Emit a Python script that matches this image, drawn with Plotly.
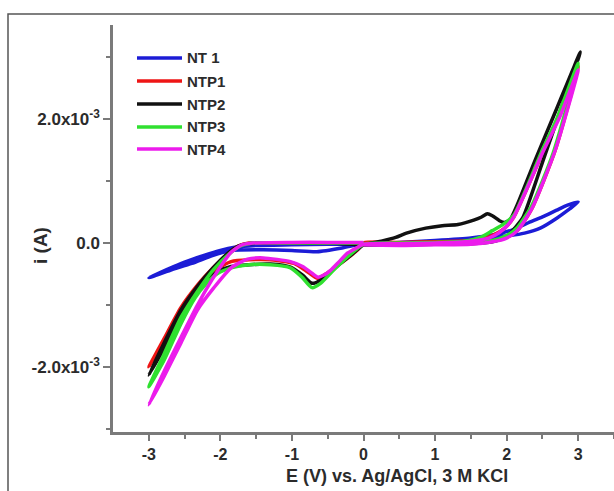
import plotly.graph_objects as go

# ---------------- data (E in V, i in units of 1e-3 A) ----------------
names = ["NT 1", "NTP1", "NTP2", "NTP3", "NTP4"]
colors = ["#1c1cd6", "#ee1515", "#111111", "#30e030", "#ec1cec"]

nt1_E = [0, 0.5, 1.0, 1.5, 1.8, 2.05, 2.25, 2.47, 2.7, 2.88, 3.0,
         2.85, 2.7, 2.5, 2.33, 2.1, 1.85, 1.5, 1.0, 0.5, 0,
         -0.3, -0.65, -1.0, -1.4, -1.85, -2.1, -2.4, -2.7, -3.0,
         -2.75, -2.5, -2.25, -2.0, -1.8, -1.5, -1.0, -0.5, 0]
nt1_i = [-0.02, -0.01, 0.01, 0.05, 0.09, 0.12, 0.16, 0.24, 0.40, 0.55, 0.66,
         0.61, 0.53, 0.42, 0.34, 0.22, 0.14, 0.08, 0.04, 0.01, -0.01,
         -0.08, -0.14, -0.12, -0.11, -0.12, -0.20, -0.33, -0.44, -0.56,
         -0.43, -0.31, -0.21, -0.12, -0.07, -0.04, -0.03, -0.02, -0.01]

ntp1_E = [0, 0.5, 1.0, 1.5, 1.8, 2.0, 2.15, 2.35, 2.68, 3.0,
          2.7, 2.5, 2.3, 2.1, 2.0, 1.9, 1.75, 1.5, 1.0, 0.5, 0,
          -0.08, -0.32, -0.5, -0.64, -0.8, -0.97, -1.3, -1.6, -1.85, -2.05, -2.2, -2.35, -2.55, -2.79, -3.0,
          -2.79, -2.55, -2.32, -2.1, -1.9, -1.75, -1.6, -1.0, -0.5, 0]
ntp1_i = [-0.02, -0.02, -0.01, 0.0, 0.03, 0.09, 0.20, 0.55, 1.50, 2.85,
          1.97, 1.45, 0.92, 0.42, 0.27, 0.18, 0.10, 0.04, 0.02, 0.01, 0.0,
          -0.11, -0.33, -0.48, -0.57, -0.45, -0.33, -0.27, -0.27, -0.30, -0.42, -0.58, -0.78, -1.10, -1.60, -2.00,
          -1.55, -1.04, -0.68, -0.40, -0.18, -0.05, 0.0, 0.0, 0.0, 0.0]

ntp2_E = [0, 0.5, 1.0, 1.5, 1.8, 2.0, 2.12, 2.23, 2.5, 2.8, 3.03,
          2.7, 2.4, 2.15, 2.05, 1.97, 1.9, 1.8, 1.73, 1.65, 1.54, 1.32, 1.1, 0.87, 0.6, 0.45, 0.25, 0,
          -0.18, -0.42, -0.6, -0.72, -0.85, -1.02, -1.3, -1.6, -1.85, -2.05, -2.2, -2.35, -2.55, -2.79, -3.0,
          -2.79, -2.55, -2.32, -2.1, -1.9, -1.75, -1.6, -1.0, -0.5, 0]
ntp2_i = [-0.03, -0.03, -0.02, -0.01, 0.02, 0.10, 0.25, 0.42, 1.30, 2.30, 3.08,
          2.17, 1.34, 0.62, 0.38, 0.33, 0.36, 0.44, 0.47, 0.42, 0.37, 0.30, 0.28, 0.24, 0.16, 0.09, 0.03, -0.03,
          -0.20, -0.42, -0.60, -0.65, -0.52, -0.39, -0.34, -0.35, -0.38, -0.47, -0.62, -0.82, -1.16, -1.70, -2.13,
          -1.62, -1.08, -0.70, -0.40, -0.17, -0.05, -0.01, 0.0, 0.0, -0.03]

ntp3_E = [0, 0.5, 1.0, 1.5, 1.8, 2.0, 2.15, 2.35, 2.65, 3.0,
          2.7, 2.48, 2.3, 2.1, 1.95, 1.8, 1.65, 1.4, 1.0, 0.5, 0,
          -0.2, -0.42, -0.6, -0.72, -0.86, -1.02, -1.3, -1.6, -1.85, -2.05, -2.2, -2.35, -2.55, -2.79, -3.0,
          -2.79, -2.55, -2.32, -2.09, -1.85, -1.7, -1.55, -1.0, -0.5, 0]
ntp3_i = [-0.02, -0.02, -0.01, 0.0, 0.04, 0.12, 0.25, 0.60, 1.45, 2.90,
          2.00, 1.45, 0.95, 0.45, 0.30, 0.20, 0.10, 0.03, 0.01, 0.0, -0.02,
          -0.20, -0.44, -0.65, -0.72, -0.55, -0.40, -0.35, -0.35, -0.40, -0.50, -0.66, -0.88, -1.30, -1.90, -2.32,
          -1.80, -1.20, -0.78, -0.42, -0.15, -0.04, 0.0, 0.0, 0.0, 0.0]

ntp4_E = [0, 0.5, 1.0, 1.5, 1.8, 2.0, 2.15, 2.35, 2.68, 3.0,
          2.75, 2.5, 2.3, 2.1, 2.0, 1.9, 1.75, 1.5, 1.0, 0.5, 0,
          -0.1, -0.22, -0.34, -0.46, -0.56, -0.64, -0.74, -0.85, -1.02, -1.4, -1.62, -1.85, -2.09, -2.32, -2.55, -2.79, -3.0,
          -2.79, -2.55, -2.32, -2.12, -1.98, -1.85, -1.7, -1.55, -1.0, -0.5, 0]
ntp4_i = [-0.03, -0.04, -0.03, -0.02, 0.02, 0.08, 0.20, 0.55, 1.50, 2.79,
          2.05, 1.45, 0.92, 0.42, 0.27, 0.17, 0.08, 0.03, 0.0, -0.01, -0.02,
          -0.08, -0.16, -0.30, -0.44, -0.52, -0.55, -0.47, -0.38, -0.30, -0.24, -0.26, -0.40, -0.72, -1.08, -1.61, -2.16, -2.61,
          -2.08, -1.52, -1.00, -0.60, -0.35, -0.15, -0.03, 0.0, 0.01, 0.01, 0.01]

series_E = [nt1_E, ntp1_E, ntp2_E, ntp3_E, ntp4_E]
series_i = [nt1_i, ntp1_i, ntp2_i, ntp3_i, ntp4_i]

x_tickvals = [-3, -2, -1, 0, 1, 2, 3]
y_tickvals = [-2.0e-3, 0.0, 2.0e-3]
y_ticktext = ["-2.0x10<sup>-3</sup>", "0.0", "2.0x10<sup>-3</sup>"]

# ---------------- figure ----------------
W, H = 614, 491
L, R, T, B = 113, 0, 25, 59
pw, ph = W - L - R, H - T - B


def px_to_paper(x, y):
    return (x - L) / pw, (H - B - y) / ph


FONT = "Liberation Sans, Arial, sans-serif"
TXT = "#2b2b2b"
AX = "#7a7a7a"

fig = go.Figure()
for name, col, E, I in zip(names, colors, series_E, series_i):
    fig.add_trace(go.Scatter(
        x=E, y=[v * 1e-3 for v in I], mode="lines", name=name,
        line=dict(color=col, width=3.5, shape="spline", smoothing=0.6),
        showlegend=False, hoverinfo="skip"))

fig.update_layout(
    width=W, height=H, margin=dict(l=L, r=R, t=T, b=B),
    paper_bgcolor="white", plot_bgcolor="white",
    font=dict(family=FONT, color=TXT),
    showlegend=False,
)

fig.update_xaxes(
    range=[-3.5, 3.5], showgrid=False, zeroline=False,
    showline=True, linecolor=AX, linewidth=2.5,
    ticks="outside", ticklen=6, tickwidth=2, tickcolor=AX,
    tickvals=x_tickvals, ticktext=[str(v) for v in x_tickvals],
    tickfont=dict(family=FONT, size=16, color=TXT, weight="bold"),
    minor=dict(tickvals=[-2.5, -1.5, -0.5, 0.5, 1.5, 2.5, 3.5], ticklen=4,
               tickwidth=2, tickcolor=AX, ticks="outside"),
)
fig.update_yaxes(
    range=[-3.048e-3, 3.516e-3], showgrid=False, zeroline=False,
    showline=True, linecolor=AX, linewidth=2.5,
    ticks="outside", ticklen=7, tickwidth=2, tickcolor=AX,
    tickvals=y_tickvals, ticktext=y_ticktext,
    tickfont=dict(family=FONT, size=17, color=TXT, weight="bold"),
    minor=dict(tickvals=[-3e-3, -1e-3, 1e-3, 3e-3], ticklen=4,
               tickwidth=2, tickcolor=AX, ticks="outside"),
)

# axis titles
tx, ty = px_to_paper(397, 476)
fig.add_annotation(x=tx, y=ty, xref="paper", yref="paper", showarrow=False,
                   text="E (V) vs. Ag/AgCl, 3 M KCl", xanchor="center", yanchor="middle",
                   font=dict(family=FONT, size=18, color=TXT, weight="bold"))
tx, ty = px_to_paper(40, 246)
fig.add_annotation(x=tx, y=ty, xref="paper", yref="paper", showarrow=False,
                   text="i (A)", textangle=-90, xanchor="center", yanchor="middle",
                   font=dict(family=FONT, size=19, color=TXT, weight="bold"))

# legend (drawn manually to match the long sample lines)
leg_rows = [58, 81, 104, 127, 149]
for name, col, yp in zip(names, colors, leg_rows):
    x0, y0 = px_to_paper(137, yp)
    x1, _ = px_to_paper(182, yp)
    fig.add_shape(type="line", xref="paper", yref="paper", x0=x0, x1=x1, y0=y0, y1=y0,
                  line=dict(color=col, width=3.5))
    xt, _ = px_to_paper(185, yp)
    fig.add_annotation(x=xt, y=y0, xref="paper", yref="paper", showarrow=False,
                       text=name, xanchor="left", yanchor="middle",
                       font=dict(family=FONT, size=15, color=TXT, weight="bold"))

# outer frame of the image (left and top edges)
fx0, fy0 = px_to_paper(8, 500)
fx1, fy1 = px_to_paper(620, 14)
fig.add_shape(type="path", xref="paper", yref="paper",
              path=f"M {fx0} {fy0} L {fx0} {fy1} L {fx1} {fy1}",
              line=dict(color="#555555", width=1.5))

fig.write_html("out.html")
